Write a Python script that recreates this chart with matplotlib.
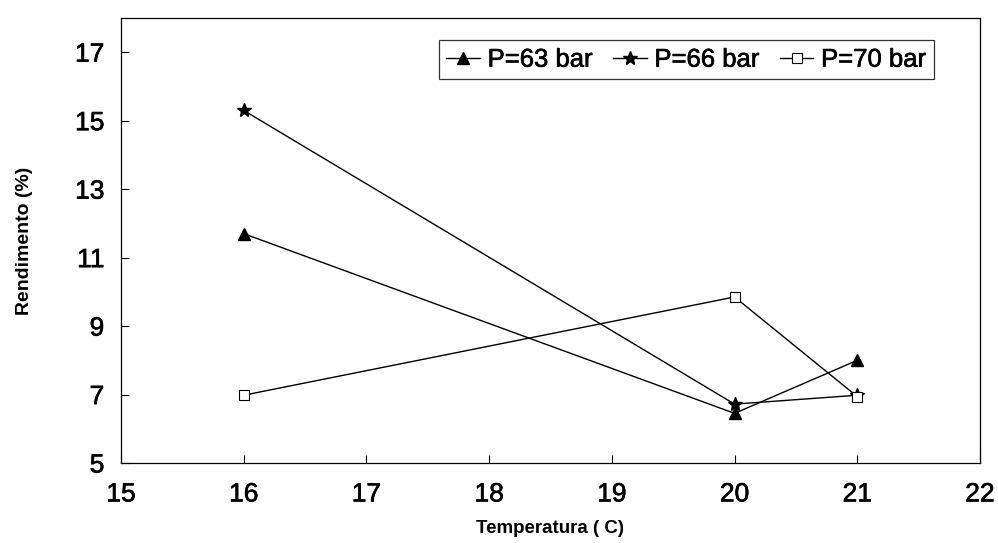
import matplotlib.pyplot as plt
import matplotlib.patheffects as pe

plt.rcParams['font.family'] = ['Liberation Sans', 'DejaVu Sans']

# temperatura (C) and rendimento (%) for each pressure
temp = [16, 20, 21]
p63 = [11.7, 6.45, 8.0]
p66 = [15.3, 6.72, 6.98]
p70 = [6.98, 9.85, 6.94]

labels = ['P=63 bar', 'P=66 bar', 'P=70 bar']
xticks = [15, 16, 17, 18, 19, 20, 21, 22]
yticks = [5, 7, 9, 11, 13, 15, 17]

heavy = [pe.withStroke(linewidth=0.45, foreground='k')]

fig = plt.figure(figsize=(9.98, 5.43), dpi=100)
ax = fig.add_axes([121/998, 1 - 463/543, (980-121)/998, (463-18)/543])

ax.plot(temp, p63, color='k', lw=1, marker='^', ms=9, mfc='k', mec='k', label=labels[0])
ax.plot(temp, p66, color='k', lw=1, marker='*', ms=10, mfc='k', mec='k', label=labels[1])
ax.plot(temp, p70, color='k', lw=1, marker='s', ms=6.5, mfc='white', mec='k', mew=0.8, label=labels[2])

ax.set_xlim(15, 22)
ax.set_ylim(5, 18)
ax.set_xticks(xticks)
ax.set_yticks(yticks)
ax.tick_params(direction='in', length=6, width=0.8, labelsize=19)
ax.tick_params(axis='x', pad=14)
ax.tick_params(axis='y', pad=12)
for lab in ax.get_xticklabels() + ax.get_yticklabels():
    lab.set_path_effects(heavy)
for s in ax.spines.values():
    s.set_linewidth(0.9)

ax.set_xlabel('Temperatura ( C)', fontsize=13.5, fontweight='bold', labelpad=10)
ax.set_ylabel('Rendimento (%)', fontsize=14, fontweight='bold', labelpad=30)

leg = ax.legend(loc='upper right', ncol=3,
                fontsize=18.5, frameon=True, fancybox=False, edgecolor='k',
                handlelength=1.3, handletextpad=0.3, columnspacing=0.8,
                borderpad=0.3, borderaxespad=0,
                bbox_to_anchor=(934/998, 1 - 40/543), bbox_transform=fig.transFigure)
leg.get_frame().set_linewidth(0.9)
for t in leg.get_texts():
    t.set_path_effects(heavy)

fig.savefig('out.png', dpi=100)
